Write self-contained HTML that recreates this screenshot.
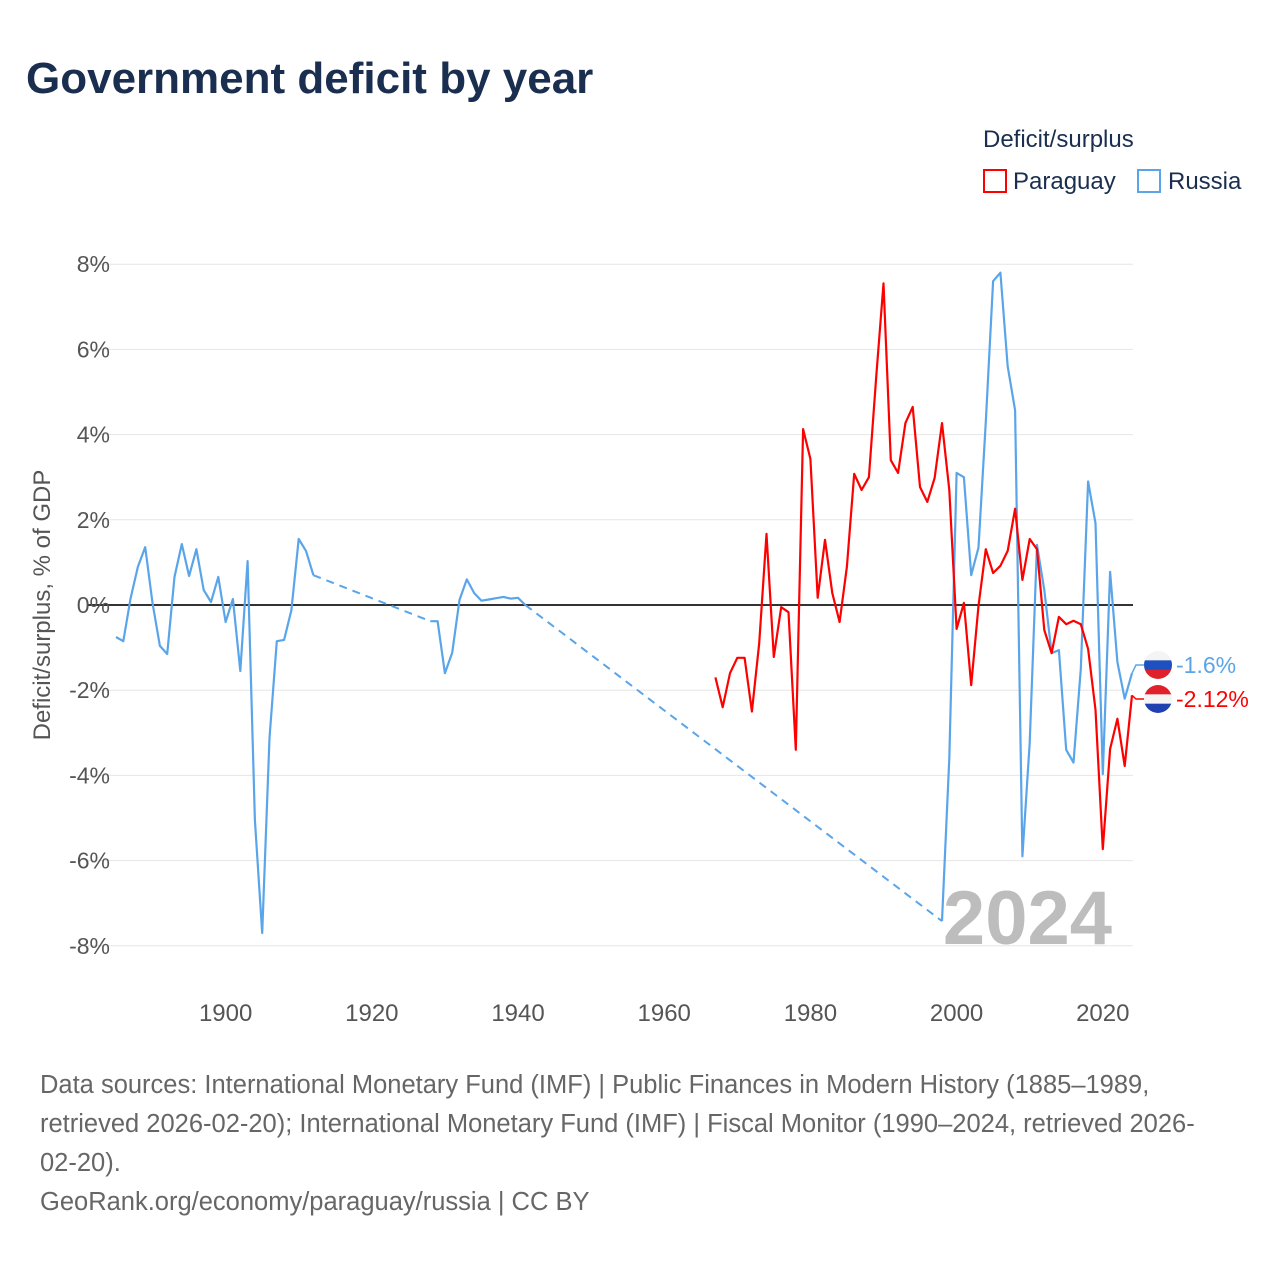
<!DOCTYPE html>
<html><head><meta charset="utf-8"><style>
body{margin:0;background:#fff;width:1280px;height:1280px;overflow:hidden;font-family:"Liberation Sans",sans-serif}
svg text{font-family:"Liberation Sans",sans-serif}
</style></head><body>
<svg id="chart" width="1280" height="1280" viewBox="0 0 1280 1280">
<text x="26" y="93" font-size="44" font-weight="bold" fill="#1a2e4f">Government deficit by year</text>
<text x="983" y="147" font-size="24" fill="#1a2e4f">Deficit/surplus</text>
<g><rect x="984" y="170" width="22" height="22" fill="none" stroke="#f00" stroke-width="2"/><text x="1013" y="189" font-size="24" fill="#1a2e4f">Paraguay</text></g>
<g><rect x="1138" y="170" width="22" height="22" fill="none" stroke="#5aa5ea" stroke-width="2"/><text x="1168" y="189" font-size="24" fill="#1a2e4f">Russia</text></g>
<g id="grid"></g><g id="series"></g>
<text x="1112" y="944" font-size="76" font-weight="bold" fill="#bdbdbd" text-anchor="end">2024</text>
<text transform="translate(50,605) rotate(-90)" font-size="24" fill="#555" text-anchor="middle">Deficit/surplus, % of GDP</text>
<g font-size="25.5" fill="#666">
<text x="40" y="1093">Data sources: International Monetary Fund (IMF) | Public Finances in Modern History (1885–1989,</text>
<text x="40" y="1132">retrieved 2026-02-20); International Monetary Fund (IMF) | Fiscal Monitor (1990–2024, retrieved 2026-</text>
<text x="40" y="1171">02-20).</text>
<text x="40" y="1210">GeoRank.org/economy/paraguay/russia | CC BY</text>
</g>
</svg>
<script>
const yTicks=[8,6,4,2,0,-2,-4,-6,-8];
const xTicks=[1900,1920,1940,1960,1980,2000,2020];
const russiaYears=[1885,1886,1887,1888,1889,1890,1891,1892,1893,1894,1895,1896,1897,1898,1899,1900,1901,1902,1903,1904,1905,1906,1907,1908,1909,1910,1911,1912,1928,1929,1930,1931,1932,1933,1934,1935,1936,1937,1938,1939,1940,1941,1998,1999,2000,2001,2002,2003,2004,2005,2006,2007,2008,2009,2010,2011,2012,2013,2014,2015,2016,2017,2018,2019,2020,2021,2022,2023,2024];
const russiaValues=[-0.75,-0.85,0.16,0.9,1.36,0.05,-0.96,-1.15,0.66,1.43,0.68,1.31,0.35,0.07,0.66,-0.4,0.14,-1.55,1.03,-5.05,-7.7,-3.12,-0.85,-0.82,-0.12,1.55,1.27,0.7,-0.38,-0.38,-1.6,-1.12,0.12,0.6,0.28,0.1,0.13,0.16,0.19,0.15,0.17,0.0,-7.42,-3.6,3.1,3.0,0.7,1.35,4.3,7.6,7.8,5.6,4.57,-5.9,-3.24,1.41,0.35,-1.13,-1.06,-3.4,-3.7,-1.5,2.9,1.92,-3.97,0.78,-1.34,-2.2,-1.6];
const paraguayYears=[1967,1968,1969,1970,1971,1972,1973,1974,1975,1976,1977,1978,1979,1980,1981,1982,1983,1984,1985,1986,1987,1988,1989,1990,1991,1992,1993,1994,1995,1996,1997,1998,1999,2000,2001,2002,2003,2004,2005,2006,2007,2008,2009,2010,2011,2012,2013,2014,2015,2016,2017,2018,2019,2020,2021,2022,2023,2024];
const paraguayValues=[-1.7,-2.4,-1.6,-1.24,-1.24,-2.5,-0.9,1.67,-1.22,-0.05,-0.17,-3.4,4.13,3.43,0.17,1.53,0.28,-0.4,0.9,3.08,2.7,3.0,5.35,7.55,3.4,3.1,4.27,4.65,2.77,2.42,2.98,4.27,2.7,-0.56,0.05,-1.88,-0.02,1.31,0.75,0.92,1.27,2.26,0.59,1.55,1.31,-0.59,-1.13,-0.28,-0.45,-0.37,-0.45,-1.03,-2.46,-5.73,-3.38,-2.67,-3.78,-2.12];
const NS='http://www.w3.org/2000/svg';
const X=y=>116+(y-1885)*(1132-116)/139;
const Y=v=>605-v*42.6;
const grid=document.getElementById('grid'),ser=document.getElementById('series');
function mk(tag,attrs,parent){const e=document.createElementNS(NS,tag);for(const k in attrs)e.setAttribute(k,attrs[k]);parent.appendChild(e);return e;}
yTicks.forEach(t=>{
  const l=mk('line',{x1:88,x2:1133,y1:Y(t),y2:Y(t),stroke:t===0?'#333':'#e6e6e6','stroke-width':t===0?2:1},grid);
  
  
  const tx=mk('text',{x:110,y:Y(t)+8,'font-size':23,fill:'#555','text-anchor':'end'},grid);
  tx.textContent=t+'%';
  
  
});
xTicks.forEach(t=>{
  const tx=mk('text',{x:X(t),y:1021,'font-size':24,fill:'#555','text-anchor':'middle'},grid);
  tx.textContent=t;
  
  
});
function draw(years,vals,color,name){
  let seg=[[years[0],vals[0]]];
  for(let i=1;i<years.length;i++){
    const gap=years[i]-years[i-1]>1;
    if(gap){
      solid(seg);seg=[];
      const d=mk('line',{x1:X(years[i-1]),y1:Y(vals[i-1]),x2:X(years[i]),y2:Y(vals[i]),stroke:color,'stroke-width':2,'stroke-dasharray':'8,6'},ser);
      
      
    }
    seg.push([years[i],vals[i]]);
  }
  solid(seg);
  function solid(s){if(s.length<2)return;
    const p=mk('polyline',{points:s.map(q=>X(q[0]).toFixed(1)+','+Y(q[1]).toFixed(1)).join(' '),fill:'none',stroke:color,'stroke-width':2.2,'stroke-linejoin':'round'},ser);
    
    
  }
}
draw(russiaYears,russiaValues,'#5aa5ea','russia');
draw(paraguayYears,paraguayValues,'#ff0000','paraguay');
function endLabel(vals,color,name,flag,ly){
  const v=vals[vals.length-1];
  const x0=X(2024);
  mk('polyline',{points:x0+','+Y(v)+' '+(x0+4)+','+ly+' '+(x0+12)+','+ly,fill:'none',stroke:color,'stroke-width':1.5},ser);
  const g=mk('g',{},ser);
  
  
  const cx=1158,r=14;
  const cp=mk('clipPath',{id:'c'+name},g);mk('circle',{cx:cx,cy:ly,r:r},cp);
  flag.forEach((c,i)=>mk('rect',{x:cx-r,y:ly-r+i*2*r/3,width:2*r,height:2*r/3+0.5,fill:c,'clip-path':'url(#c'+name+')'},g));
  const t=mk('text',{x:1176,y:ly+8,'font-size':23,fill:color},g);
  t.textContent=(Math.round(v*100)/100)+'%';
}
endLabel(russiaValues,'#5aa5ea','russia',['#f4f4f4','#1f50c0','#e0202a'],665);
endLabel(paraguayValues,'#ff0000','paraguay',['#e0202a','#f4f4f4','#1f40b0'],699);
</script>
</body></html>
